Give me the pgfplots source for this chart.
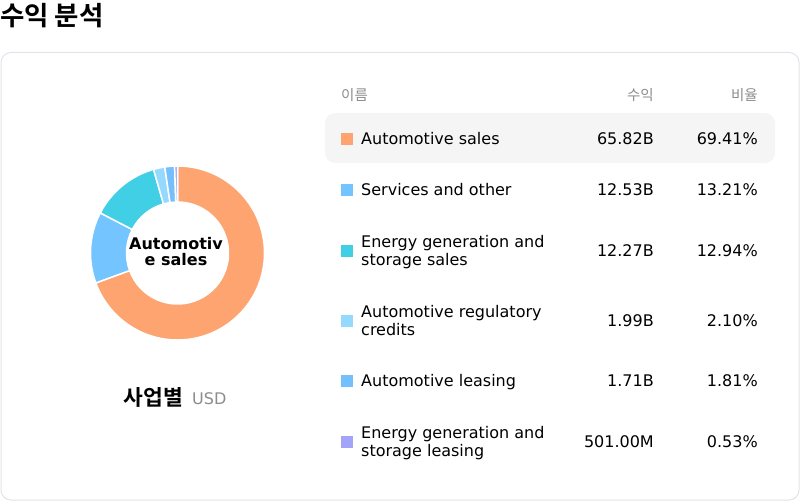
\documentclass[border=0pt]{standalone}
\usepackage{fontspec}
\setmainfont{DejaVu Sans}
\newfontfamily\kr[BoldFont={Noto Sans CJK KR Bold}]{Noto Sans CJK KR}
\usepackage{pgfplots}
\pgfplotsset{compat=1.18}
\usepackage{pgfplotstable}

\definecolor{c0}{RGB}{254,164,112}
\definecolor{c1}{RGB}{116,196,255}
\definecolor{c2}{RGB}{65,207,230}
\definecolor{c3}{RGB}{150,217,255}
\definecolor{c4}{RGB}{116,192,252}
\definecolor{c5}{RGB}{163,163,250}
\definecolor{cardline}{RGB}{226,226,234}
\definecolor{rowbg}{RGB}{245,245,245}
\definecolor{hdr}{RGB}{140,140,140}

\newcommand\body{\fontsize{16bp}{18bp}\selectfont}

% shares of revenue, in percent
\pgfplotstableread{
pct
69.41
13.21
12.94
2.10
1.81
0.53
}\shares

\begin{document}
\begin{tikzpicture}
\begin{axis}[
	width=800bp, height=501bp, scale only axis,
	xmin=0, xmax=800, ymin=0, ymax=501,
	y dir=reverse,
	hide axis, clip=false,
	]

	% card and highlighted row
	\draw[cardline, line width=1bp, rounded corners=10bp] (axis cs:1,52.5) rectangle (axis cs:799,500);
	\fill[rowbg, rounded corners=10bp] (axis cs:325,113) rectangle (axis cs:775,163);

	% donut, clockwise from the top
	\pgfmathsetmacro\acc{90}
	\pgfplotsforeachungrouped \i in {0,...,5}{%
		\pgfplotstablegetelem{\i}{pct}\of\shares
		\pgfmathsetmacro\aend{\acc-3.6*\pgfplotsretval}
		\edef\wedge{\noexpand\fill[c\i, draw=white, line width=1.5bp, shift={(axis cs:177.5,253)}]
			(\acc:87bp) arc[start angle=\acc, end angle=\aend, radius=87bp]
			-- (\aend:51bp) arc[start angle=\aend, end angle=\acc, radius=51bp] -- cycle;}
		\wedge
		\global\let\acc\aend
	}
	\node[anchor=base, font=\body\bfseries] at (axis cs:176,249.5) {Automotiv};
	\node[anchor=base, font=\body\bfseries] at (axis cs:176,265) {e sales};

	% titles
	\node[anchor=base west, inner sep=0pt, font=\kr\fontsize{26.5bp}{30bp}\selectfont\bfseries] at (axis cs:0,25.5) {수익 분석};
	\node[anchor=base east, inner sep=0pt, font=\kr\fontsize{21.5bp}{24bp}\selectfont\bfseries] at (axis cs:183,405) {사업별};
	\node[anchor=base west, inner sep=0pt, font=\fontsize{16bp}{18bp}\selectfont, text=hdr] at (axis cs:192,404) {USD};

	% table header
	\node[anchor=base west, inner sep=0pt, font=\kr\fontsize{14.5bp}{16bp}\selectfont, text=hdr] at (axis cs:341,100) {이름};
	\node[anchor=base east, inner sep=0pt, font=\kr\fontsize{14.5bp}{16bp}\selectfont, text=hdr] at (axis cs:654,100) {수익};
	\node[anchor=base east, inner sep=0pt, font=\kr\fontsize{14.5bp}{16bp}\selectfont, text=hdr] at (axis cs:758,100) {비율};

	% legend squares
	\fill[c0] (axis cs:341,133) rectangle (axis cs:353,145);
	\fill[c1] (axis cs:341,184) rectangle (axis cs:353,196);
	\fill[c2] (axis cs:341,245) rectangle (axis cs:353,257);
	\fill[c3] (axis cs:341,315) rectangle (axis cs:353,327);
	\fill[c4] (axis cs:341,375) rectangle (axis cs:353,387);
	\fill[c5] (axis cs:341,436) rectangle (axis cs:353,448);

	% row names
	\tikzset{nm/.style={anchor=base west, inner sep=0pt, font=\body}}
	\node[nm] at (axis cs:361,144) {Automotive sales};
	\node[nm] at (axis cs:361,195) {Services and other};
	\node[nm] at (axis cs:361,247) {Energy generation and};
	\node[nm] at (axis cs:361,265) {storage sales};
	\node[nm] at (axis cs:361,317) {Automotive regulatory};
	\node[nm] at (axis cs:361,335) {credits};
	\node[nm] at (axis cs:361,386) {Automotive leasing};
	\node[nm] at (axis cs:361,438) {Energy generation and};
	\node[nm] at (axis cs:361,456) {storage leasing};

	% revenue and share
	\tikzset{vl/.style={anchor=base east, inner sep=0pt, font=\body}}
	\node[vl] at (axis cs:654,144) {65.82B};
	\node[vl] at (axis cs:758,144) {69.41\%};
	\node[vl] at (axis cs:654,195) {12.53B};
	\node[vl] at (axis cs:758,195) {13.21\%};
	\node[vl] at (axis cs:654,256) {12.27B};
	\node[vl] at (axis cs:758,256) {12.94\%};
	\node[vl] at (axis cs:654,326) {1.99B};
	\node[vl] at (axis cs:758,326) {2.10\%};
	\node[vl] at (axis cs:654,386) {1.71B};
	\node[vl] at (axis cs:758,386) {1.81\%};
	\node[vl] at (axis cs:654,447) {501.00M};
	\node[vl] at (axis cs:758,447) {0.53\%};
\end{axis}
\pgfresetboundingbox
\path (current axis.south west) rectangle (current axis.north east);
\end{tikzpicture}
\end{document}
